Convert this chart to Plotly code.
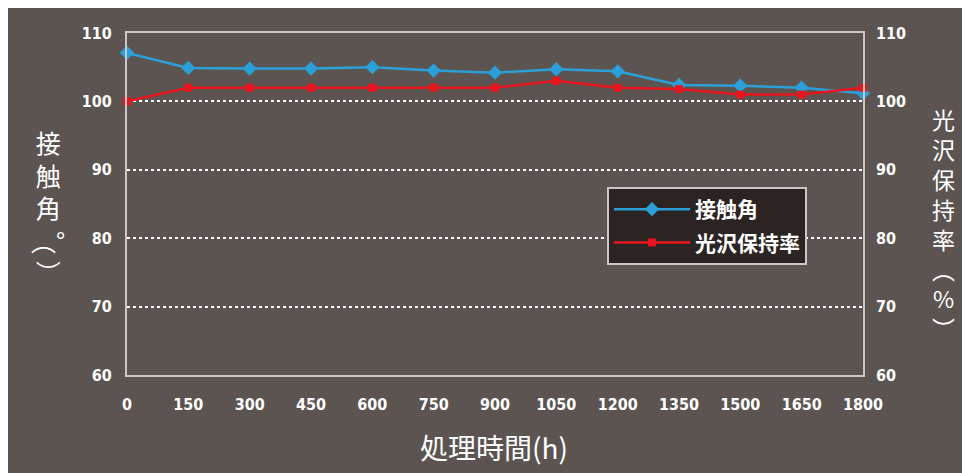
import plotly.graph_objects as go

hours = [0, 150, 300, 450, 600, 750, 900, 1050, 1200, 1350, 1500, 1650, 1800]
contact_angle = [107.1, 104.9, 104.8, 104.8, 105.0, 104.5, 104.2, 104.7, 104.4, 102.4, 102.3, 102.0, 101.2]
gloss_retention = [100.0, 102.0, 102.0, 102.0, 102.0, 102.0, 102.0, 103.0, 102.0, 101.8, 101.0, 101.0, 102.0]
x_ticks = hours
y_ticks = [60, 70, 80, 90, 100, 110]

BG = "#5b5451"
FRAME = "#c9c6c4"
tick_font = dict(family="DejaVu Sans Condensed, DejaVu Sans, sans-serif", size=16, color="white", weight="bold")
cjk = "Noto Sans CJK JP"

# plot area in page pixels (page has an 8px body margin)
PL, PR, PT, PB = 127, 863, 33, 375
OFF = 8
def px(xp):
    return (xp - PL) / (PR - PL)
def py(yp):
    return (PB - yp) / (PB - PT)

fig = go.Figure()
fig.add_trace(go.Scatter(
    x=hours, y=contact_angle, name="接触角", mode="lines+markers", legendgroup="a",
    line=dict(color="#2b9fd8", width=2.5),
    marker=dict(symbol="diamond", size=11, color="#2b9fd8"),
    cliponaxis=False,
))
fig.add_trace(go.Scatter(
    x=hours, y=gloss_retention, name="光沢保持率", mode="lines+markers", legendgroup="b",
    line=dict(color="#e8141e", width=2.5),
    marker=dict(symbol="square", size=8, color="#e8141e"),
    yaxis="y2", cliponaxis=False,
))

fig.update_layout(
    width=970, height=473,
    margin=dict(l=PL - OFF, r=970 + OFF - PR, t=PT - OFF, b=473 + OFF - PB),
    paper_bgcolor=BG, plot_bgcolor=BG,
    showlegend=True,
    legend=dict(
        x=px(607), y=py(187), xanchor="left", yanchor="top",
        bgcolor="#2b2422", bordercolor=FRAME, borderwidth=2,
        font=dict(family=cjk, size=21, color="white", weight="bold"),
        itemwidth=76, tracegroupgap=3,
    ),
    xaxis=dict(
        range=[0, 1800], tickvals=x_ticks, ticktext=[str(v) for v in x_ticks],
        tickfont=tick_font, showgrid=False, zeroline=False,
        showline=True, linecolor=FRAME, linewidth=2, mirror=True,
        ticks="", ticklabelstandoff=14,
    ),
    yaxis=dict(
        range=[60, 110], tickvals=y_ticks, tickfont=tick_font,
        showgrid=True, gridcolor="white", gridwidth=2, griddash="dot",
        zeroline=False, showline=True, linecolor=FRAME, linewidth=2, mirror=True,
        ticks="", ticklabelstandoff=10,
    ),
    yaxis2=dict(
        range=[60, 110], tickvals=y_ticks, tickfont=tick_font,
        overlaying="y", side="right", showgrid=False, zeroline=False,
        ticks="", ticklabelstandoff=12,
    ),
)

def note(text, xp, yp, size):
    fig.add_annotation(text=text, xref="paper", yref="paper", x=px(xp), y=py(yp),
                       xanchor="center", yanchor="middle", showarrow=False,
                       font=dict(family=cjk, size=size, color="white"))

# x-axis title
note("処理時間(h)", 494, 447, 28)

# left vertical title
note("接<br>触<br>角<br>︵°<br>︶", 48, 207, 25)

# right vertical title
note("光<br>沢<br>保<br>持<br>率<br>︵<br>%<br>︶", 943, 223, 23)

fig.write_html("out.html")
